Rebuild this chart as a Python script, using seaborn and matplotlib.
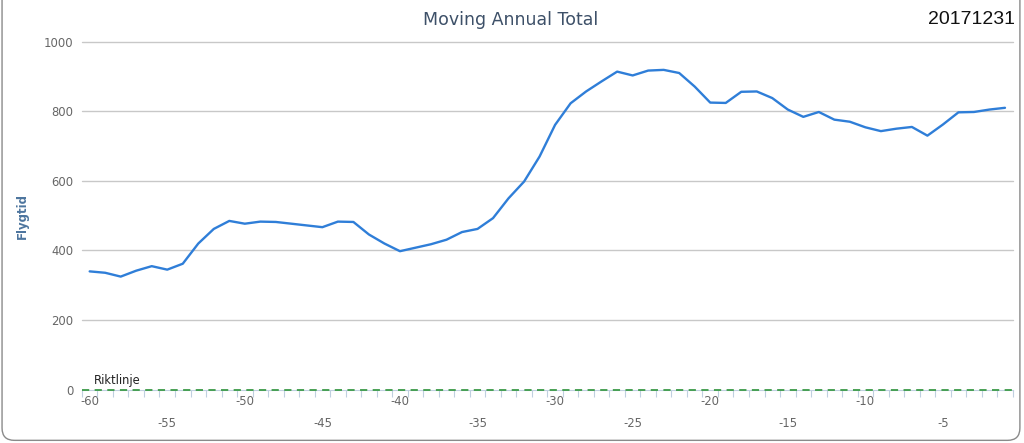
import numpy as np
import pandas as pd
import matplotlib
matplotlib.use('Agg')
import matplotlib.pyplot as plt
import seaborn as sns
from matplotlib.patches import FancyBboxPatch

# months back from the report date and the moving annual total (hours)
months = list(range(-60, 0))
flygtid = [340, 336, 325, 342, 355, 345, 362, 420, 462, 485,
           477, 483, 482, 477, 472, 467, 483, 482, 446, 420,
           398, 408, 418, 431, 453, 462, 493, 550, 598, 670,
           761, 823, 857, 886, 914, 903, 917, 919, 910, 871,
           825, 824, 856, 857, 838, 805, 784, 798, 776, 770,
           754, 743, 750, 755, 730, 762, 797, 798, 805, 810]
riktlinje = 0
y_ticks = [0, 200, 400, 600, 800, 1000]
x_labels = list(range(-60, 0, 5))

df = pd.DataFrame({'Maned': months, 'Flygtid': flygtid})

sns.set_style('white')
plt.rcParams['font.family'] = ['DejaVu Sans']

fig = plt.figure(figsize=(10.24, 4.43), dpi=100)
ax = fig.add_axes([0.080, 0.1203, 0.909, 0.7856])

# rounded frame round the whole chart
frame = FancyBboxPatch((0.002, 0.006), 0.994, 1.05, boxstyle='round,pad=0,rounding_size=0.012',
                       transform=fig.transFigure, facecolor='none', edgecolor='#8a8a8a',
                       linewidth=1.0, mutation_aspect=1024 / 443)
fig.patches.append(frame)

for t in y_ticks[1:]:
    ax.axhline(t, color='#c8c8c8', linewidth=1.0, zorder=1, clip_on=False)

sns.lineplot(data=df, x='Maned', y='Flygtid', ax=ax, color='#2f7ed8', linewidth=1.7, zorder=3)

ax.axhline(riktlinje, color='#3c9a48', linewidth=1.3, linestyle=(0, (4, 3)), zorder=4, clip_on=False)
ax.text(-59.7, riktlinje + 8, 'Riktlinje', fontsize=8.3, color='#222222', va='bottom', ha='left')

ax.set_xlim(-60.5, -0.5)
ax.set_ylim(0, 1000)
ax.set_yticks(y_ticks)
ax.set_yticklabels([str(t) for t in y_ticks])
ax.set_xticks(x_labels)
ax.set_xticklabels([str(v) if i % 2 == 0 else '\n' + str(v) for i, v in enumerate(x_labels)],
                   linespacing=1.9)
ax.set_xticks(np.arange(-60.5, 0, 1), minor=True)
ax.tick_params(axis='x', which='both', bottom=True)
ax.tick_params(axis='x', which='major', length=0, pad=4, labelsize=8.4, colors='#666666')
ax.tick_params(axis='x', which='minor', length=5, width=0.8, color='#c0d0e0', direction='out')
ax.tick_params(axis='y', which='major', length=0, pad=6, labelsize=8.4, colors='#666666')

for s in ['top', 'right', 'left']:
    ax.spines[s].set_visible(False)
ax.spines['bottom'].set_color('#c0d0e0')
ax.spines['bottom'].set_zorder(2)

ax.set_xlabel('')
ax.set_ylabel('Flygtid', fontsize=8.5, fontweight='bold', color='#4d759e', labelpad=11)

fig.text(0.499, 0.955, 'Moving Annual Total', ha='center', va='center', fontsize=12.5, color='#3d5068')
fig.text(0.9915, 0.955, '20171231', ha='right', va='center', fontsize=14,
         color='#111111', family=['Liberation Sans', 'DejaVu Sans'])

fig.savefig('out.png', dpi=100, facecolor='white')
